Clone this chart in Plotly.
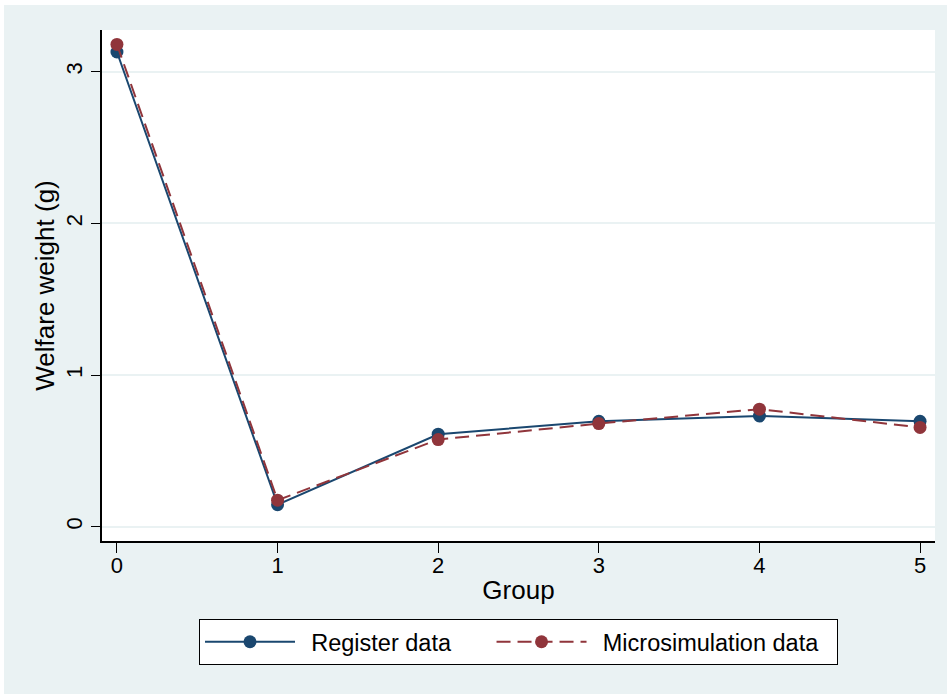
import plotly.graph_objects as go

# Welfare weights by group, two data sources
groups = [0, 1, 2, 3, 4, 5]
register_data = [3.13, 0.145, 0.61, 0.695, 0.73, 0.695]
microsim_data = [3.18, 0.175, 0.575, 0.68, 0.775, 0.655]
y_ticks = [0, 1, 2, 3]
series_names = ["Register data", "Microsimulation data"]

NAVY = "#1a476f"
MAROON = "#90353b"
BG = "#eaf2f3"
FONT = "Liberation Sans, Arial, sans-serif"

W, H = 947, 694
L, R, T, B = 102, 12, 30, 153

NB, THIN = "\u00a0", "\u2009"
# legend labels padded so the entries sit apart like a Stata legend
legend_labels = [
    NB + THIN + series_names[0] + NB * 4 + THIN * 2,
    NB + THIN + series_names[1] + NB * 2,
]

fig = go.Figure()
fig.add_trace(go.Scatter(
    x=groups, y=register_data, name=legend_labels[0],
    mode="lines+markers",
    line=dict(color=NAVY, width=2),
    marker=dict(color=NAVY, size=13),
))
fig.add_trace(go.Scatter(
    x=groups, y=microsim_data, name=legend_labels[1],
    mode="lines+markers",
    line=dict(color=MAROON, width=2, dash="14px,7px"),
    marker=dict(color=MAROON, size=13),
))

pw, ph = W - L - R, H - T - B
# thin white strip along the top and left edges of the page
fig.add_shape(type="rect", xref="paper", yref="paper", line_width=0,
              fillcolor="white", x0=-L / pw, x1=(W - L) / pw,
              y0=(H - B - 5) / ph, y1=(H - B) / ph)
fig.add_shape(type="rect", xref="paper", yref="paper", line_width=0,
              fillcolor="white", x0=-L / pw, x1=(4 - L) / pw,
              y0=-B / ph, y1=(H - B) / ph)

fig.update_layout(
    width=W, height=H,
    margin=dict(l=L, r=R, t=T, b=B),
    paper_bgcolor=BG, plot_bgcolor="white",
    font=dict(family=FONT, size=22, color="black"),
    showlegend=True,
    legend=dict(
        orientation="h", x=0.5, xanchor="center",
        y=(H - B - 619) / ph, yanchor="top",
        bgcolor="white", bordercolor="black", borderwidth=1,
        font=dict(size=23.5), itemwidth=90,
    ),
    xaxis=dict(
        range=[-0.093, 5.093], tickvals=groups, ticktext=[str(g) for g in groups],
        showgrid=False, zeroline=False,
        showline=True, linecolor="black", linewidth=1.5,
        ticks="outside", ticklen=10, tickcolor="black", tickwidth=1.2,
        ticklabelstandoff=-6,
        title=dict(text="Group", standoff=4),
    ),
    yaxis=dict(
        range=[-0.094, 3.275], tickvals=y_ticks, ticktext=[str(v) for v in y_ticks],
        showgrid=True, gridcolor=BG, gridwidth=1.5, zeroline=False,
        showline=True, linecolor="black", linewidth=1.5,
        ticks="outside", ticklen=9, tickcolor="black", tickwidth=1.2,
        tickangle=-90,
        title=dict(text="Welfare weight (g)", standoff=0),
    ),
)

fig.write_html("out.html")
